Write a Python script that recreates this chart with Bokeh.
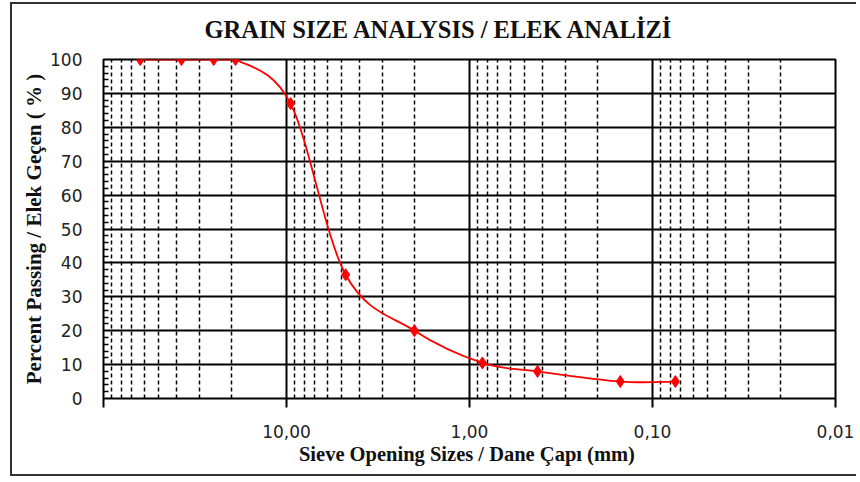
import numpy as np
from bokeh.plotting import figure
from bokeh.models import Range1d, FixedTicker, Title, ColumnDataSource
from bokeh.embed import file_html
from bokeh.resources import INLINE

# ---- data ----
sieve_mm = [63.0, 37.5, 25.0, 19.0, 9.5, 4.75, 2.0, 0.85, 0.425, 0.15, 0.075]
passing = [100, 100, 100, 100, 87, 36.5, 20, 10.5, 8, 5, 5]

x_ticks = [100, 10, 1, 0.1, 0.01]
x_tick_labels = ["", "10,00", "1,00", "0,10", "0,01"]
y_ticks = [0, 10, 20, 30, 40, 50, 60, 70, 80, 90, 100]

title_text = "GRAIN SIZE ANALYSIS / ELEK ANALİZİ"
x_title = "Sieve Opening Sizes / Dane Çapı  (mm)"
y_title = "Percent Passing / Elek Geçen ( % )"

SERIF = "Liberation Serif"
SANS = "DejaVu Sans"

p = figure(width=846, height=474, x_axis_type="log",
           x_range=Range1d(100, 0.01), y_range=Range1d(0, 100),
           output_backend="svg", toolbar_location=None,
           min_border_left=91, min_border_right=23, min_border_top=55, min_border_bottom=80)
p.styles = {"margin-left": "10px", "margin-top": "2px",
            "border-left": "2px solid #333", "border-top": "2px solid #333",
            "border-bottom": "2px solid #333"}
p.background_fill_color = "white"
p.border_fill_color = "white"
p.outline_line_color = "black"
p.outline_line_width = 2

# spacer between frame and title, then the title itself
p.add_layout(Title(text=" ", text_font_size="1px", standoff=13), "above")
p.add_layout(Title(text=title_text, align="left", offset=101, standoff=0,
                   vertical_align="middle", text_font=SERIF, text_font_style="bold",
                   text_font_size="24.5px", text_color="#111"), "above")

minor_x = [m * 10.0 ** e for e in range(-2, 2) for m in range(2, 10)]
p.xaxis.ticker = FixedTicker(ticks=x_ticks, minor_ticks=minor_x)
p.xaxis.major_label_overrides = {t: l for t, l in zip(x_ticks, x_tick_labels)}
p.xaxis.minor_tick_line_color = None
p.xaxis.major_tick_in = 0
p.xaxis.major_tick_out = 9
p.xaxis.major_tick_line_width = 2
p.xaxis.major_tick_line_color = "black"
p.xaxis.axis_line_color = None
p.xaxis.major_label_standoff = 17
p.xaxis.major_label_text_font = SANS
p.xaxis.major_label_text_font_size = "17px"
p.xaxis.major_label_text_color = "#222"
p.xaxis.axis_label = x_title
p.xaxis.axis_label_text_font = SERIF
p.xaxis.axis_label_text_font_style = "bold"
p.xaxis.axis_label_text_font_size = "20.5px"
p.xaxis.axis_label_text_color = "#111"
p.xaxis.axis_label_standoff = 2

minor_y = [v for v in range(0, 101, 2) if v % 10]
p.yaxis.ticker = FixedTicker(ticks=y_ticks, minor_ticks=minor_y)
p.yaxis.major_tick_in = 0
p.yaxis.major_tick_out = 0
p.yaxis.minor_tick_in = 5
p.yaxis.minor_tick_out = 0
p.yaxis.minor_tick_line_color = "black"
p.yaxis.minor_tick_line_width = 1.5
p.yaxis.axis_line_color = None
p.yaxis.major_label_standoff = 21
p.yaxis.major_label_text_font = SANS
p.yaxis.major_label_text_font_size = "17px"
p.yaxis.major_label_text_color = "#222"
p.yaxis.axis_label = y_title
p.yaxis.axis_label_text_font = SERIF
p.yaxis.axis_label_text_font_style = "bold"
p.yaxis.axis_label_text_font_size = "21px"
p.yaxis.axis_label_text_color = "#111"
p.yaxis.axis_label_standoff = 1

p.xgrid.grid_line_color = "black"
p.xgrid.grid_line_width = 2
p.xgrid.minor_grid_line_color = "black"
p.xgrid.minor_grid_line_width = 1.5
p.xgrid.minor_grid_line_dash = "4 3"
p.ygrid.grid_line_color = "black"
p.ygrid.grid_line_width = 2

# smoothed curve (Catmull-Rom -> cubic Bezier in log-x space)
lx = np.log10(np.array(sieve_mm))
yy = np.array(passing, dtype=float)
n = len(lx)
x0, y0, x1, y1, cx0, cy0, cx1, cy1 = [], [], [], [], [], [], [], []
for i in range(n - 1):
    pa = max(i - 1, 0)
    pb = min(i + 2, n - 1)
    c0x = lx[i] + (lx[i + 1] - lx[pa]) / 6
    c0y = yy[i] + (yy[i + 1] - yy[pa]) / 6
    c1x = lx[i + 1] - (lx[pb] - lx[i]) / 6
    c1y = yy[i + 1] - (yy[pb] - yy[i]) / 6
    x0.append(10 ** lx[i]); y0.append(yy[i])
    x1.append(10 ** lx[i + 1]); y1.append(yy[i + 1])
    cx0.append(10 ** c0x); cy0.append(min(c0y, 100))
    cx1.append(10 ** c1x); cy1.append(min(c1y, 100))
bez = ColumnDataSource(dict(x0=x0, y0=y0, x1=x1, y1=y1, cx0=cx0, cy0=cy0, cx1=cx1, cy1=cy1))
p.bezier(x0="x0", y0="y0", x1="x1", y1="y1", cx0="cx0", cy0="cy0", cx1="cx1", cy1="cy1",
         source=bez, line_color="#ff0000", line_width=1.8)

p.scatter(sieve_mm, passing, marker="diamond", size=12, fill_color="#ff0000",
          line_color="#ff0000")

open("out.html", "w").write(file_html(p, INLINE))
